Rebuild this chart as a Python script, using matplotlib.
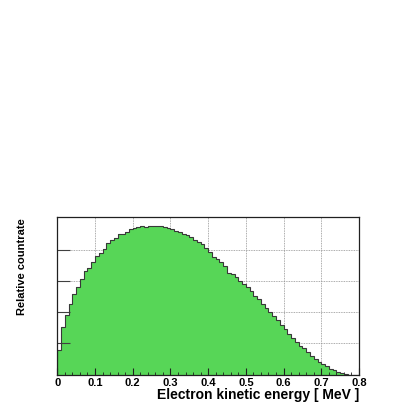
import numpy as np
import matplotlib
matplotlib.use('Agg')
import matplotlib.pyplot as plt
from matplotlib.ticker import MultipleLocator

plt.rcParams['font.family'] = ['Liberation Sans', 'DejaVu Sans']

# beta spectrum, 80 bins of 0.01 MeV
bin_edges = np.round(np.arange(0, 0.801, 0.01), 3)
counts = [0.80, 1.51, 1.91, 2.26, 2.57, 2.82, 3.06, 3.33, 3.43, 3.62,
          3.79, 3.89, 4.02, 4.20, 4.30, 4.39, 4.49, 4.52, 4.57, 4.66,
          4.71, 4.72, 4.75, 4.73, 4.76, 4.75, 4.75, 4.75, 4.72, 4.69,
          4.66, 4.60, 4.57, 4.51, 4.47, 4.42, 4.32, 4.26, 4.18, 4.07,
          3.92, 3.76, 3.70, 3.60, 3.49, 3.27, 3.22, 3.11, 3.01, 2.90,
          2.79, 2.69, 2.53, 2.42, 2.26, 2.13, 1.99, 1.89, 1.75, 1.60,
          1.45, 1.30, 1.16, 1.05, 0.92, 0.84, 0.73, 0.60, 0.50, 0.41,
          0.34, 0.26, 0.18, 0.13, 0.09, 0.05, 0.02, 0.0, 0.0, 0.0]
x_ticks = [0, 0.1, 0.2, 0.3, 0.4, 0.5, 0.6, 0.7, 0.8]
x_labels = ['0', '0.1', '0.2', '0.3', '0.4', '0.5', '0.6', '0.7', '0.8']
y_ticks = [1, 2, 3, 4]

fig = plt.figure(figsize=(4.06, 4.06), dpi=100)
ax = fig.add_axes([0.1411, 0.0751, 0.7431, 0.388])

for v in x_ticks[1:-1]:
    ax.axvline(v, color='#909090', lw=0.6, ls=(0, (1, 1)), zorder=0)
for v in y_ticks:
    ax.axhline(v, color='#909090', lw=0.6, ls=(0, (1, 1)), zorder=0)

ax.stairs(counts, bin_edges, fill=True, color='#57d657', zorder=1)
ax.stairs(counts, bin_edges, color='#383838', lw=0.8, zorder=2)

ax.set_xlim(0, 0.8)
ax.set_ylim(0, 5.05)
ax.set_xticks(x_ticks)
ax.set_xticklabels(x_labels, fontweight='bold', fontsize=8)
ax.xaxis.set_minor_locator(MultipleLocator(0.02))
ax.set_yticks(y_ticks)
ax.set_yticklabels([])
ax.tick_params(axis='x', which='major', direction='in', length=5, width=0.8,
               pad=2, color='#202020')
ax.tick_params(axis='x', which='minor', direction='in', length=2.5, width=0.6,
               color='#202020')
ax.tick_params(axis='y', which='major', direction='in', length=9, width=0.8,
               color='#404040')
for s in ax.spines.values():
    s.set_linewidth(0.9)
    s.set_color('#202020')
    s.set_zorder(3)

ax.set_xlabel('Electron kinetic energy [ MeV ]', fontweight='bold',
              fontsize=10, loc='right', labelpad=0)
ax.set_ylabel('Relative countrate', fontweight='bold', fontsize=8,
              loc='top', labelpad=18)

fig.savefig('out.png', dpi=100)
